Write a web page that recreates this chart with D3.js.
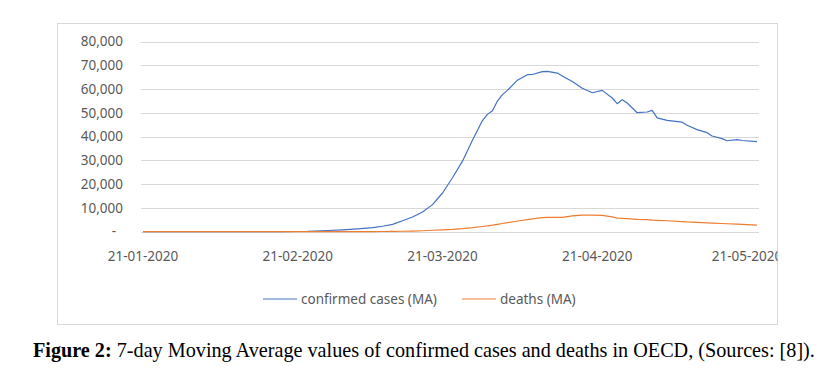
<!DOCTYPE html>
<html>
<head>
<meta charset="utf-8">
<script src="https://cdn.jsdelivr.net/npm/d3@7"></script>
<style>
  body { margin: 0; background: #fff; }
  svg { display: block; }
</style>
</head>
<body>
<div id="chart"></div>
<script>
const dates = [
  "2020-01-21", "2020-01-28", "2020-02-04", "2020-02-11", "2020-02-18", "2020-02-23",
  "2020-02-27", "2020-03-01", "2020-03-04", "2020-03-07", "2020-03-09", "2020-03-11",
  "2020-03-13", "2020-03-15", "2020-03-17", "2020-03-19", "2020-03-21", "2020-03-23",
  "2020-03-25", "2020-03-27", "2020-03-29", "2020-03-30", "2020-03-31",
  "2020-04-01", "2020-04-02", "2020-04-03", "2020-04-05", "2020-04-07", "2020-04-08",
  "2020-04-10", "2020-04-11", "2020-04-13", "2020-04-14", "2020-04-16", "2020-04-18",
  "2020-04-20", "2020-04-22", "2020-04-24", "2020-04-25", "2020-04-26", "2020-04-27",
  "2020-04-29",
  "2020-05-01", "2020-05-02", "2020-05-03", "2020-05-05", "2020-05-08", "2020-05-09",
  "2020-05-11", "2020-05-13", "2020-05-14", "2020-05-16", "2020-05-17", "2020-05-19",
  "2020-05-20", "2020-05-23"
];

const confirmedCases = [
  0, 5, 15, 30, 60, 200,
  500, 800, 1200, 1700, 2300, 3100,
  4600, 6200, 8300, 11400, 16300, 22700,
  29700, 38500, 46800, 49400, 50900,
  55000, 57700, 59500, 63800, 66100, 66200,
  67400, 67500, 66800, 65600, 63200, 60400,
  58500, 59500, 56300, 53900, 55600, 54200,
  50100,
  50400, 51100, 47900, 46900, 46100, 44800,
  43000, 41700, 40300, 39200, 38300, 38800,
  38400, 37900
];

const deaths = [
  0, 0, 0, 1, 2, 5,
  10, 20, 30, 50, 80, 120,
  180, 280, 400, 600, 800, 1000,
  1300, 1700, 2200, 2450, 2750,
  3100, 3450, 3800, 4500, 5100, 5400,
  5950, 6000, 6000, 6000, 6650, 6950,
  7000, 6850, 6250, 5700, 5600, 5500,
  5200,
  5050, 4900, 4800, 4600, 4250, 4100,
  3900, 3750, 3650, 3450, 3350, 3200,
  3100, 2800
];

const xTickDates = ["2020-01-21", "2020-02-21", "2020-03-21", "2020-04-21", "2020-05-21"];
const xTickLabels = ["21-01-2020", "21-02-2020", "21-03-2020", "21-04-2020", "21-05-2020"];
const yTicks = [0, 10000, 20000, 30000, 40000, 50000, 60000, 70000, 80000];

const seriesNames = ["confirmed cases (MA)", "deaths (MA)"];
const seriesColors = ["#4472C4", "#ED7D31"];

const caption = "7-day Moving Average values of confirmed cases and deaths in OECD, (Sources: [8]).";

const W = 821, H = 374;
const parse = d3.utcParse("%Y-%m-%d");
const labelFont = "'Noto Sans', sans-serif";

const svg = d3.select("#chart").append("svg")
  .attr("width", W)
  .attr("height", H);

svg.append("rect").attr("width", W).attr("height", H).attr("fill", "#fff");

// chart area frame
const frame = { left: 57.5, top: 23.5, right: 777.5, bottom: 324.5 };
svg.append("rect")
  .attr("x", frame.left)
  .attr("y", frame.top)
  .attr("width", frame.right - frame.left)
  .attr("height", frame.bottom - frame.top)
  .attr("fill", "#fff")
  .attr("stroke", "#d9d9d9")
  .attr("stroke-width", 1);

const x = d3.scaleUtc()
  .domain([parse(xTickDates[0]), parse(xTickDates[4])])
  .range([143, 747]);

const y = d3.scaleLinear()
  .domain([0, 80000])
  .range([231.7, 41.7]);

const fmt = d3.format(",");

// gridlines
svg.append("g")
  .selectAll("line")
  .data(yTicks)
  .join("line")
  .attr("x1", 141)
  .attr("x2", 759)
  .attr("y1", d => Math.round(y(d)) + 0.5)
  .attr("y2", d => Math.round(y(d)) + 0.5)
  .attr("stroke", "#d9d9d9")
  .attr("stroke-width", 1);

// y labels
svg.append("g")
  .selectAll("text")
  .data(yTicks)
  .join("text")
  .attr("x", d => d === 0 ? 116 : 123)
  .attr("y", d => y(d))
  .attr("dy", "0.35em")
  .attr("text-anchor", "end")
  .attr("fill", "#595959")
  .style("font-family", labelFont)
  .style("font-size", "13.5px")
  .text(d => d === 0 ? "-" : fmt(d));

// x labels, clipped at the chart frame like the original
svg.append("clipPath").attr("id", "frameClip")
  .append("rect")
  .attr("x", frame.left)
  .attr("y", frame.top)
  .attr("width", frame.right - frame.left)
  .attr("height", frame.bottom - frame.top);

svg.append("g")
  .attr("clip-path", "url(#frameClip)")
  .selectAll("text")
  .data(xTickDates)
  .join("text")
  .attr("x", d => x(parse(d)))
  .attr("y", 256.5)
  .attr("dy", "0.35em")
  .attr("text-anchor", "middle")
  .attr("fill", "#595959")
  .style("font-family", labelFont)
  .style("font-size", "13.5px")
  .text((d, i) => xTickLabels[i]);

// lines
const line = d3.line()
  .x(d => x(d[0]))
  .y(d => y(d[1]));

const series = [confirmedCases, deaths].map(vals => dates.map((d, i) => [parse(d), vals[i]]));

svg.append("g")
  .selectAll("path")
  .data(series)
  .join("path")
  .attr("fill", "none")
  .attr("stroke", (d, i) => seriesColors[i])
  .attr("stroke-width", 1.2)
  .attr("stroke-linejoin", "round")
  .attr("d", line);

// legend
const legendX = [263, 462];
const legend = svg.append("g")
  .selectAll("g")
  .data(seriesNames)
  .join("g")
  .attr("transform", (d, i) => `translate(${legendX[i]},299)`);

legend.append("line")
  .attr("x1", 0)
  .attr("x2", 34)
  .attr("stroke", (d, i) => seriesColors[i])
  .attr("stroke-width", 1.2);

legend.append("text")
  .attr("x", 38)
  .attr("dy", "0.35em")
  .attr("fill", "#595959")
  .style("font-family", labelFont)
  .style("font-size", "13.5px")
  .text(d => d);

// caption
const cap = svg.append("text")
  .attr("x", 33)
  .attr("y", 357)
  .style("font-family", "'Liberation Serif', 'Times New Roman', serif")
  .style("font-size", "20.2px")
  .attr("fill", "#000");

cap.append("tspan").style("font-weight", "bold").text("Figure 2:");
cap.append("tspan").text(" " + caption);
</script>
</body>
</html>
